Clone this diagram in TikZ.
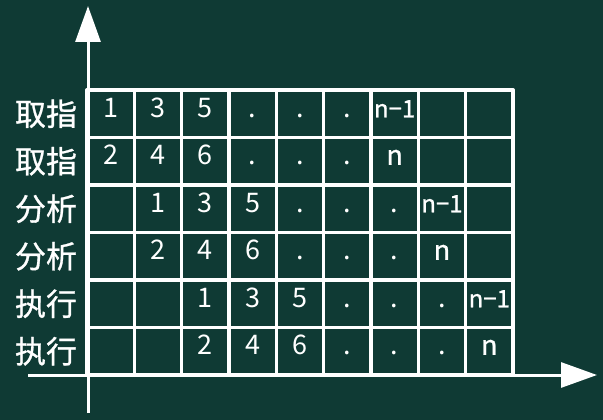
\documentclass[tikz,border=0pt]{standalone}
\usepackage{fontspec}
\setmainfont{Noto Sans CJK SC}[BoldFont={Noto Sans CJK SC}, BoldFeatures={FakeBold=0.9}]
\usepackage{xcolor}
\usepackage{tikz}
\usetikzlibrary{arrows.meta,positioning}
\definecolor{board}{HTML}{0F3A34}
\newcommand{\nmone}{{\fontsize{24}{24}\selectfont\bfseries n−1}}
\newcommand{\nlast}{{\bfseries n}}

\begin{document}
\begin{tikzpicture}[x=1pt, y=-1pt, every node/.style={text=white},
    cell/.style={font=\fontsize{27}{27}\selectfont, text height=0.72em, text depth=0pt, inner sep=0pt},
    stage/.style={font=\fontsize{31}{31}\selectfont\bfseries, inner sep=0pt},
    gridline/.style={draw=white, line width=3.5pt, line cap=round, line join=round},
    axis/.style={draw=white, line width=3pt, -{Triangle[length=36pt, width=25pt]}}]
    \useasboundingbox[fill=board] (0,0) rectangle (603,420);

    % stage names on the left
    \foreach \name [count=\j from 0] in {取指,取指,分析,分析,执行,执行}
        \node (stage\j) [stage] at (46, 113.75+47.5*\j) {\name};

    % table of instruction numbers
    \foreach \row [count=\j from 0] in {{1,3,5,.,.,.,\nmone,,},{2,4,6,.,.,.,\nlast,,},
            {,1,3,5,.,.,.,\nmone,},{,2,4,6,.,.,.,\nlast,},
            {,,1,3,5,.,.,.,\nmone},{,,2,4,6,.,.,.,\nlast}}
        \foreach \t [count=\i from 0] in \row
            \node (cell-\j-\i) [cell] at (110.67+47.33*\i, 113.75+47.5*\j) {\t};

    \foreach \i in {0,...,9}
        \draw[gridline] (87+47.33*\i, 90) -- (87+47.33*\i, 375);
    \foreach \j in {0,...,6}
        \draw[gridline] (87, 90+47.5*\j) -- (513, 90+47.5*\j);

    % axes
    \coordinate (ybot) at (88,413);
    \coordinate (ytop) at (88,6);
    \coordinate (xleft) at (28,375);
    \coordinate (xright) at (597,375);
    \draw[axis] (ybot) -- (ytop);
    \draw[axis] (xleft) -- (xright);
\end{tikzpicture}
\end{document}
